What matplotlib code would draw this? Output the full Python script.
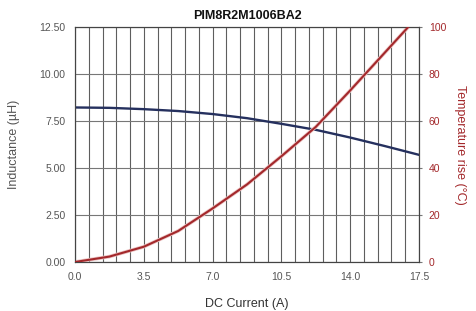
import matplotlib
matplotlib.use("Agg")
import matplotlib.pyplot as plt
import numpy as np

plt.rcParams['font.family'] = ['Liberation Sans', 'DejaVu Sans']

current = [0.0, 1.75, 3.5, 5.25, 7.0, 8.75, 10.5, 12.25, 14.0, 15.75, 17.5]
inductance = [8.22, 8.20, 8.13, 8.03, 7.87, 7.65, 7.35, 7.03, 6.62, 6.17, 5.70]
temp_rise = [0.0, 2.3, 6.5, 13.2, 22.8, 33.0, 45.0, 57.5, 73.0, 89.0, 105.0]

x_ticks = [0.0, 3.5, 7.0, 10.5, 14.0, 17.5]
x_tick_labels = ["0.0", "3.5", "7.0", "10.5", "14.0", "17.5"]
y_ticks = [0.0, 2.5, 5.0, 7.5, 10.0, 12.5]
y_tick_labels = ["0.00", "2.50", "5.00", "7.50", "10.00", "12.50"]
t_ticks = [0, 20, 40, 60, 80, 100]
t_tick_labels = ["0", "20", "40", "60", "80", "100"]
x_grid = [0.7 * i for i in range(26)]

title = "PIM8R2M1006BA2"
xlabel = "DC Current (A)"
ylabel = "Inductance (µH)"
ylabel2 = "Temperature rise (°C)"

blue = "#25305e"
red = "#a3282b"
gray_text = "#555555"
grid_c = "#5e5e5e"

fig = plt.figure(figsize=(4.77, 3.11), dpi=100)
ax = fig.add_axes([75/477, 49/311, 344/477, 235/311])
ax2 = ax.twinx()

ax.set_xlim(0, 17.5)
ax.set_ylim(0, 12.5)
ax2.set_ylim(0, 100)

for xv in x_grid:
    ax.axvline(xv, color=grid_c, lw=0.8, zorder=1)
for yv in y_ticks:
    ax.axhline(yv, color="#777777", lw=0.8, zorder=1)

ax.plot(current, inductance, color=blue, lw=1.7, zorder=3)
ax2.plot(current, temp_rise, color="#ebc3c3", lw=2.6, zorder=2)
ax2.plot(current, temp_rise, color=red, lw=1.5, zorder=3)

ax.set_xticks(x_ticks)
ax.set_xticklabels(x_tick_labels, fontsize=7.5, color=gray_text)
ax.set_yticks(y_ticks)
ax.set_yticklabels(y_tick_labels, fontsize=7.5, color=gray_text)
ax2.set_yticks(t_ticks)
ax2.set_yticklabels(t_tick_labels, fontsize=7.5, color=red)

ax.tick_params(axis='x', length=0, pad=7)
ax.tick_params(axis='y', length=0, pad=7)
ax2.tick_params(axis='y', length=2, pad=5, color="#777777", width=0.8)

for s in ax.spines.values():
    s.set_color("#444444")
    s.set_linewidth(0.8)
for s in ax2.spines.values():
    s.set_color("#444444")
    s.set_linewidth(0.8)

ax.set_title(title, fontsize=9, fontweight='bold', pad=6, color="#111111")
ax.set_xlabel(xlabel, fontsize=9, color="#333333", labelpad=12)
ax.set_ylabel(ylabel, fontsize=9, color=gray_text, labelpad=14)
ax2.set_ylabel(ylabel2, fontsize=9, color=red, rotation=270, labelpad=14)

fig.savefig("out.png", dpi=100)
